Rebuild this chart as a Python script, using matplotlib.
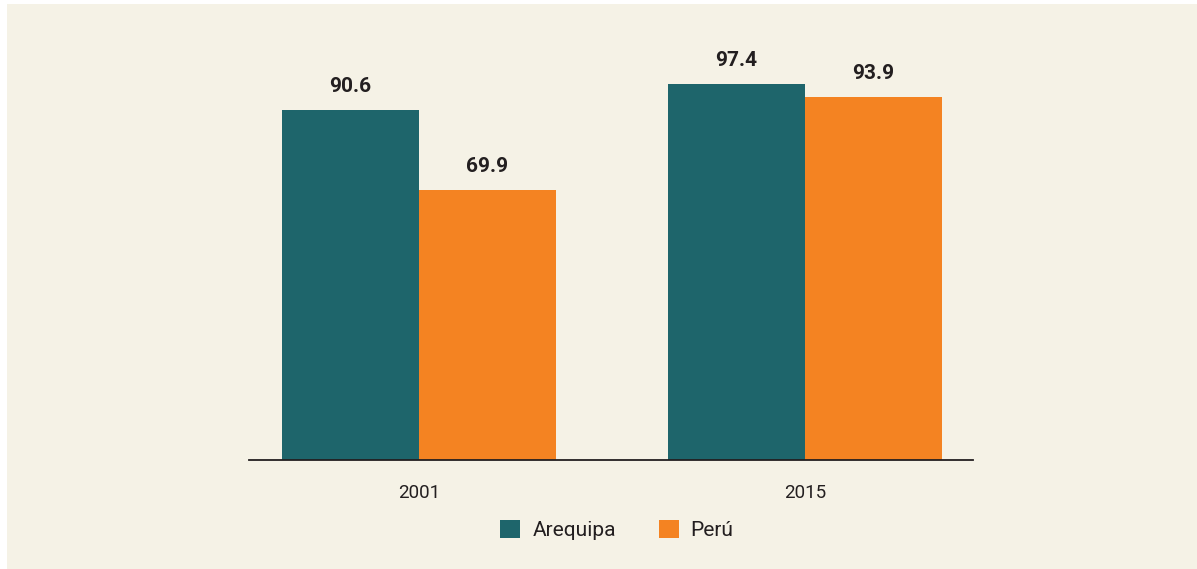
import matplotlib.pyplot as plt
from matplotlib.patches import Rectangle, Patch
import numpy as np

# data
years = ["2001", "2015"]
arequipa = [90.6, 97.4]
peru = [69.9, 93.9]
series_names = ["Arequipa", "Perú"]

teal = "#1e656b"
orange = "#f48322"
bg = "#f5f2e6"
txt = "#231f20"

plt.rcParams["font.family"] = ["Roboto", "DejaVu Sans"]

fig = plt.figure(figsize=(11.97, 5.69), dpi=100, facecolor="white")
# cream panel (thin white margin top/left as in the source)
fig.patches.append(Rectangle((7 / 1197, 0), 1, 1 - 4 / 569, transform=fig.transFigure,
                             facecolor=bg, edgecolor="none", zorder=-10))

ax = fig.add_axes([249 / 1197, 1 - 460 / 569, 724 / 1197, 386.3 / 569])
ax.set_facecolor("none")

x = np.arange(len(years))
w = 0.355
b1 = ax.bar(x - w / 2, arequipa, w, color=teal, label=series_names[0])
b2 = ax.bar(x + w / 2, peru, w, color=orange, label=series_names[1])

for bars in (b1, b2):
    for r in bars:
        ax.annotate(f"{r.get_height():.1f}", xy=(r.get_x() + r.get_width() / 2, r.get_height()),
                    xytext=(0, 10), textcoords="offset points", ha="center", va="bottom",
                    fontsize=15, fontweight="bold", color=txt)

ax.set_xlim(-0.440, 1.435)
ax.set_ylim(0, 100)
ax.set_xticks(x)
ax.set_xticklabels(years, fontsize=13.5, color=txt)
ax.tick_params(axis="x", length=0, pad=17)
ax.set_yticks([])
for s in ["top", "right", "left"]:
    ax.spines[s].set_visible(False)
ax.spines["bottom"].set_color(txt)
ax.spines["bottom"].set_linewidth(1.3)

handles = [Patch(facecolor=teal), Patch(facecolor=orange)]
fig.legend(handles, series_names, loc="center", bbox_to_anchor=(617 / 1197, 1 - 530 / 569),
           ncol=2, frameon=False, fontsize=15, handlelength=0.96, handleheight=0.92,
           handletextpad=0.58, columnspacing=2.05, labelcolor=txt)

fig.savefig("out.png", dpi=100, facecolor=fig.get_facecolor())
